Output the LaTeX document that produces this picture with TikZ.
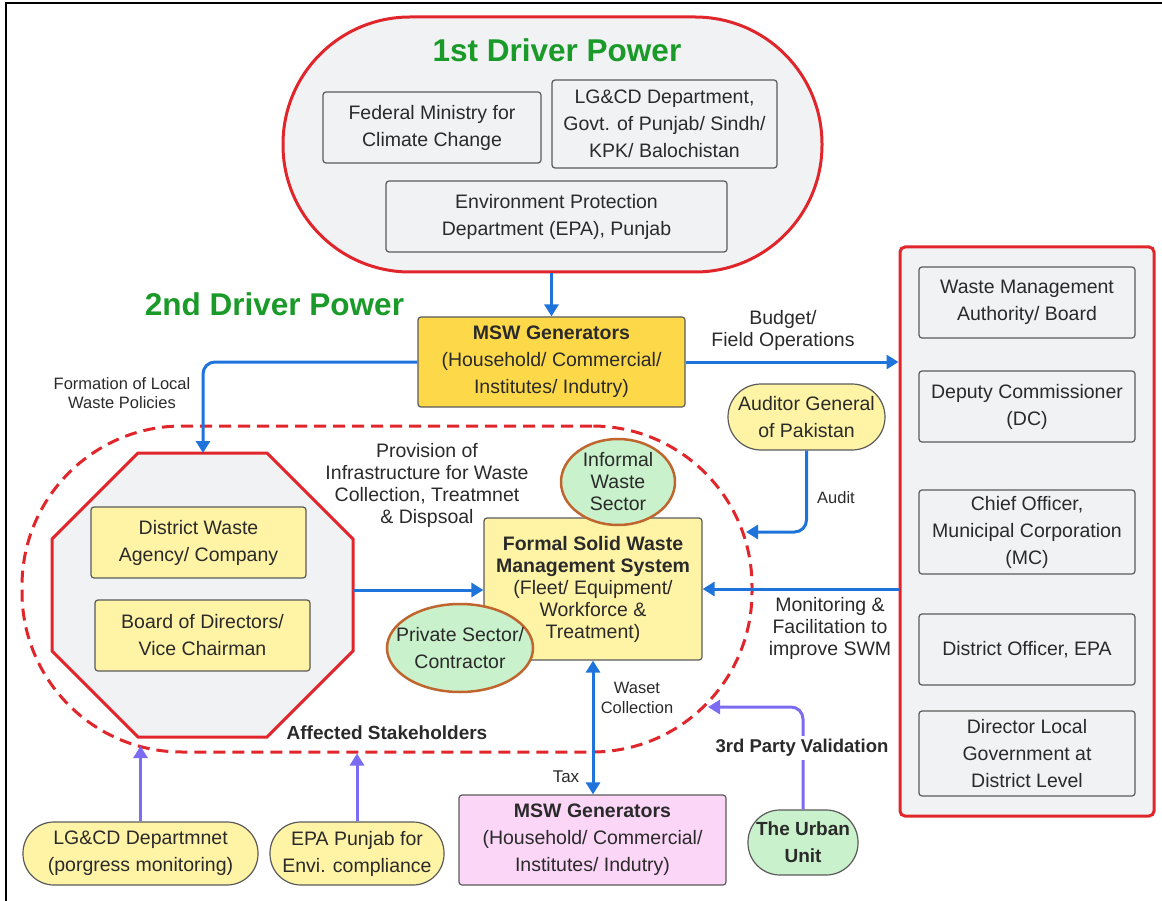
\documentclass[tikz,border=0pt]{standalone}
\usepackage{fontspec}
\setmainfont{Liberation Sans}
\usetikzlibrary{arrows.meta,shapes.geometric,positioning}
\definecolor{panel}{HTML}{F1F2F4}
\definecolor{redline}{HTML}{E0262B}
\definecolor{titlegreen}{HTML}{1A9A28}
\definecolor{boxline}{HTML}{5A5A5A}
\definecolor{gold}{HTML}{FDD94A}
\definecolor{paleyellow}{HTML}{FFF4A6}
\definecolor{palegreen}{HTML}{C9F2CC}
\definecolor{ovalline}{HTML}{C0652E}
\definecolor{palepink}{HTML}{FBD6F7}
\definecolor{flowblue}{HTML}{1F74DB}
\definecolor{lavender}{HTML}{7C6CF2}
\definecolor{ink}{HTML}{2A2A2A}
\begin{document}
\begin{tikzpicture}[x=1pt,y=-1pt,
    every node/.style={text=ink,align=center,inner sep=0pt},
    body/.style={font=\fontsize{19.5}{27}\selectfont},
    note/.style={font=\fontsize{19.5}{22}\selectfont},
    small/.style={font=\fontsize{16.5}{19.5}\selectfont},
    title/.style={font=\bfseries\fontsize{31.5}{36}\selectfont,text=titlegreen},
    holder/.style={draw=redline,fill=panel,line width=3pt},
    govbox/.style={body,draw=boxline,fill=panel,line width=1.2pt,rounded corners=3pt},
    ylwbox/.style={body,draw=boxline,fill=paleyellow,line width=1.2pt,rounded corners=3pt},
    sector/.style={ellipse,draw=ovalline,fill=palegreen,line width=2.5pt},
    pill/.style={body,draw=boxline,fill=paleyellow,line width=1.2pt,rounded corners=31pt},
    flow/.style={draw=flowblue,line width=3pt,-{Triangle[width=14pt,length=12pt]}},
    check/.style={draw=lavender,line width=3pt,-{Triangle[width=14pt,length=12pt]}}]
  \useasboundingbox (0,0) rectangle (1162,901);
  \draw[line width=2pt] (6,901) -- (6,3) -- (1162,3);

  % 1st driver power
  \node[holder,rounded corners=127pt,minimum width=539pt,minimum height=255pt] (driverone) at (552.5,144.5) {};
  \node[title] (titleone) at (557,50) {1st Driver Power};
  \begin{scope}[every node/.append style={govbox}]
    \node[minimum width=218pt,minimum height=71pt] (fedmin) at (432,127.5) {Federal Ministry for\\Climate Change};
    \node[minimum width=225pt,minimum height=88pt] (lgcddep) at (664.5,124) {LG\&CD Department,\\Govt. of Punjab/ Sindh/\\KPK/ Balochistan};
    \node[minimum width=341pt,minimum height=71pt] (epadep) at (556.5,216.5) {Environment Protection\\Department (EPA), Punjab};
  \end{scope}

  % 2nd driver power
  \node[title] (titletwo) at (274.5,304) {2nd Driver Power};
  \node[body,draw=boxline,fill=gold,line width=1.2pt,rounded corners=3pt,minimum width=267pt,minimum height=90pt] (mswtop) at (551.5,362)
    {\textbf{MSW Generators}\\(Household/ Commercial/\\Institutes/ Indutry)};

  % officers
  \node[holder,rounded corners=5pt,minimum width=254pt,minimum height=569pt] (officers) at (1027,531.5) {};
  \begin{scope}[every node/.append style={govbox,minimum width=216pt}]
    \node[minimum height=71pt] (wma) at (1027,302.5) {Waste Management\\Authority/ Board};
    \node[minimum height=71pt] (dc) at (1027,406.5) {Deputy Commissioner\\(DC)};
    \node[minimum height=84pt] (chief) at (1027,532) {Chief Officer,\\Municipal Corporation\\(MC)};
    \node[minimum height=71pt] (distepa) at (1027,649.5) {District Officer, EPA};
    \node[minimum height=85pt] (dlg) at (1027,753.5) {Director Local\\Government at\\District Level};
  \end{scope}
  \node[pill,rounded corners=33pt,minimum width=157pt,minimum height=66pt] (auditor) at (806.5,417) {Auditor General\\of Pakistan};

  % affected stakeholders
  \node[draw=redline,line width=3pt,dash pattern=on 12pt off 7pt,rounded corners=160pt,minimum width=730pt,minimum height=326pt] (stake) at (387,589) {};
  \draw[holder] (52,539) -- (138,453) -- (267,453) -- (353,539) -- (353,651) -- (267,737) -- (138,737) -- (52,651) -- cycle;
  \coordinate (octN) at (203,453);
  \coordinate (octE) at (353,590);
  \node[ylwbox,minimum width=215pt,minimum height=71pt] (distagency) at (198.5,542.5) {District Waste\\Agency/ Company};
  \node[ylwbox,minimum width=215pt,minimum height=71pt] (board) at (202.5,635.5) {Board of Directors/\\Vice Chairman};
  \node[note] (provision) at (427,485) {Provision of\\Infrastructure for Waste\\Collection, Treatmnet\\\& Dispsoal};
  \node[ylwbox,font=\fontsize{19.5}{22}\selectfont,minimum width=218pt,minimum height=142pt] (formal) at (593,589)
    {\textbf{Formal Solid Waste}\\\textbf{Management System}\\(Fleet/ Equipment/\\Workforce \&\\Treatment)};
  \node[sector,minimum width=114pt,minimum height=86pt] (informal) at (618,482) {};
  \node[note] at (informal) {Informal\\Waste\\Sector};
  \node[sector,minimum width=146pt,minimum height=88pt] (private) at (460,648) {};
  \node[body] at (private) {Private Sector/\\Contractor};
  \node[font=\bfseries\fontsize{19}{22}\selectfont] (affected) at (387,733) {Affected Stakeholders};

  % bottom row
  \node[body,draw=boxline,fill=palepink,line width=1.2pt,rounded corners=3pt,minimum width=267pt,minimum height=90pt] (mswbottom) at (592.5,840)
    {\textbf{MSW Generators}\\(Household/ Commercial/\\Institutes/ Indutry)};
  \node[pill,minimum width=235pt,minimum height=63pt] (lgmon) at (140.5,853.5) {LG\&CD Departmnet\\(porgress monitoring)};
  \node[pill,minimum width=174pt,minimum height=63pt] (epapunjab) at (357,853.5) {EPA Punjab for\\Envi. compliance};
  \node[pill,font=\bfseries\fontsize{19}{27}\selectfont,fill=palegreen,rounded corners=32pt,minimum width=110pt,minimum height=65pt] (urban) at (803,842.5) {The Urban\\Unit};

  % connectors
  \coordinate (auditin) at (746,532);
  \coordinate (lgin) at (140.5,746);
  \coordinate (urbanin) at (708,707);
  \draw[flow] (driverone.south -| mswtop.north) -- (mswtop.north);
  \draw[flow,rounded corners=12pt] (mswtop.west) -| (octN);
  \draw[flow] (mswtop.east) -- (mswtop.east -| officers.west);
  \draw[flow,rounded corners=12pt] (auditor.south) |- (auditin);
  \draw[flow] (octE) -- (octE -| formal.west);
  \draw[flow] (formal.east -| officers.west) -- (formal.east);
  \draw[flow,{Triangle[width=14pt,length=12pt]}-{Triangle[width=14pt,length=12pt]}] (formal.south) -- (formal.south |- mswbottom.north);
  \path (lgmon) edge[check] (lgin);
  \draw[check] (epapunjab.north) -- (epapunjab.north |- stake.south);
  \draw[check,rounded corners=12pt] (urban.north) |- (urbanin);

  % labels
  \node[small] (formation) at (122,393) {Formation of Local\\Waste Policies};
  \node[note] (budget) at (783,330) {Budget/\\Field Operations};
  \node[small] (auditlbl) at (836,498) {Audit};
  \node[note] (monitor) at (830,628) {Monitoring \&\\Facilitation to\\improve SWM};
  \node[small] (wasetlbl) at (637,698) {Waset\\Collection};
  \node[font=\fontsize{17}{20}\selectfont] (taxlbl) at (566,777) {Tax};
  \node[font=\bfseries\fontsize{18.5}{22}\selectfont,fill=white,inner sep=3pt] (validation) at (802,748) {3rd Party Validation};
\end{tikzpicture}
\end{document}
